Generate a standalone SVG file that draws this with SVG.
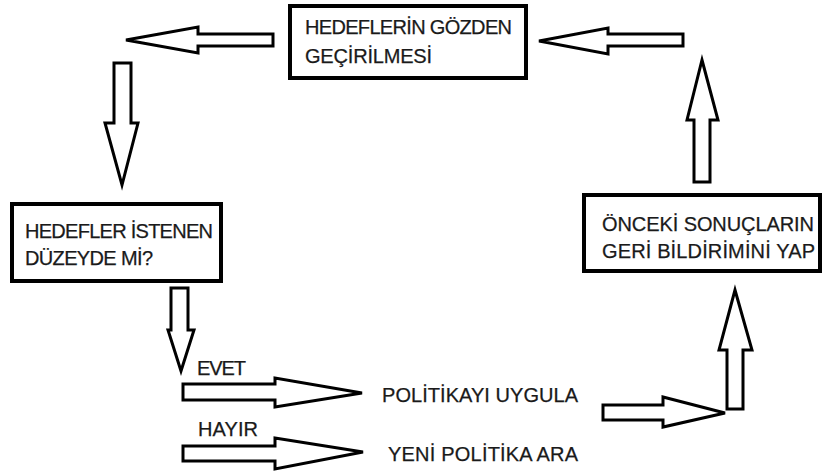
<svg xmlns="http://www.w3.org/2000/svg" width="824" height="474" viewBox="0 0 824 474">
<style>
.box{fill:#fff;stroke:#000;stroke-width:4}
.arr{fill:#fff;stroke:#000;stroke-width:3;stroke-linejoin:miter}
text{font-family:"Liberation Sans",Arial,sans-serif;font-size:20px;fill:#1a1a1a;stroke:#1a1a1a;stroke-width:0.25}
</style>
<rect width="824" height="474" fill="#fff"/>
<g id="connectors">
<polygon class="arr" points="126,40 198,27 198,34 273,34 273,46 198,46 198,53"/>
<polygon class="arr" points="539,41 608,28 608,34 683,34 683,46 608,46 608,54"/>
<polygon class="arr" points="114,63 131,63 131,123 138,123 122,185 105,123 114,123"/>
<polygon class="arr" points="702,60 718,120 710,120 710,182 694,182 694,120 687,120"/>
<polygon class="arr" points="171,288 188,288 188,330 194,330 181,371 168,330 171,330"/>
<polygon class="arr" points="183,384 275,384 275,378 362,393 275,407 275,400 183,400"/>
<polygon class="arr" points="183,446 275,446 275,438 363,452 275,469 275,461 183,461"/>
<polygon class="arr" points="603,405 663,405 663,397 725,413 663,427 663,420 603,420"/>
<polygon class="arr" points="735,290 752,350 743,350 743,409 727,409 727,350 719,350"/>
<text x="197" y="375" textLength="49" lengthAdjust="spacing">EVET</text>
<text x="198" y="436" textLength="60" lengthAdjust="spacing">HAYIR</text>
</g>
<g id="hedeflerin-gozden">
<rect class="box" x="290" y="6" width="236" height="72"/>
<text x="305" y="34" textLength="207" lengthAdjust="spacing">HEDEFLERİN GÖZDEN</text>
<text x="305" y="63" textLength="127" lengthAdjust="spacing">GEÇİRİLMESİ</text>
</g>
<g id="hedefler-istenen">
<rect class="box" x="12" y="204" width="209" height="77"/>
<text x="25" y="238" textLength="188" lengthAdjust="spacing">HEDEFLER İSTENEN</text>
<text x="25" y="265" textLength="128" lengthAdjust="spacing">DÜZEYDE Mİ?</text>
</g>
<g id="onceki-sonuclarin">
<rect class="box" x="584" y="195" width="236" height="76"/>
<text x="602" y="231" textLength="212" lengthAdjust="spacing">ÖNCEKİ SONUÇLARIN</text>
<text x="602" y="258" textLength="213" lengthAdjust="spacing">GERİ BİLDİRİMİNİ YAP</text>
</g>
<g id="politikayi-uygula">
<text x="382" y="402" textLength="196" lengthAdjust="spacing">POLİTİKAYI UYGULA</text>
</g>
<g id="yeni-politika">
<text x="388" y="461" textLength="190" lengthAdjust="spacing">YENİ POLİTİKA ARA</text>
</g>
</svg>
